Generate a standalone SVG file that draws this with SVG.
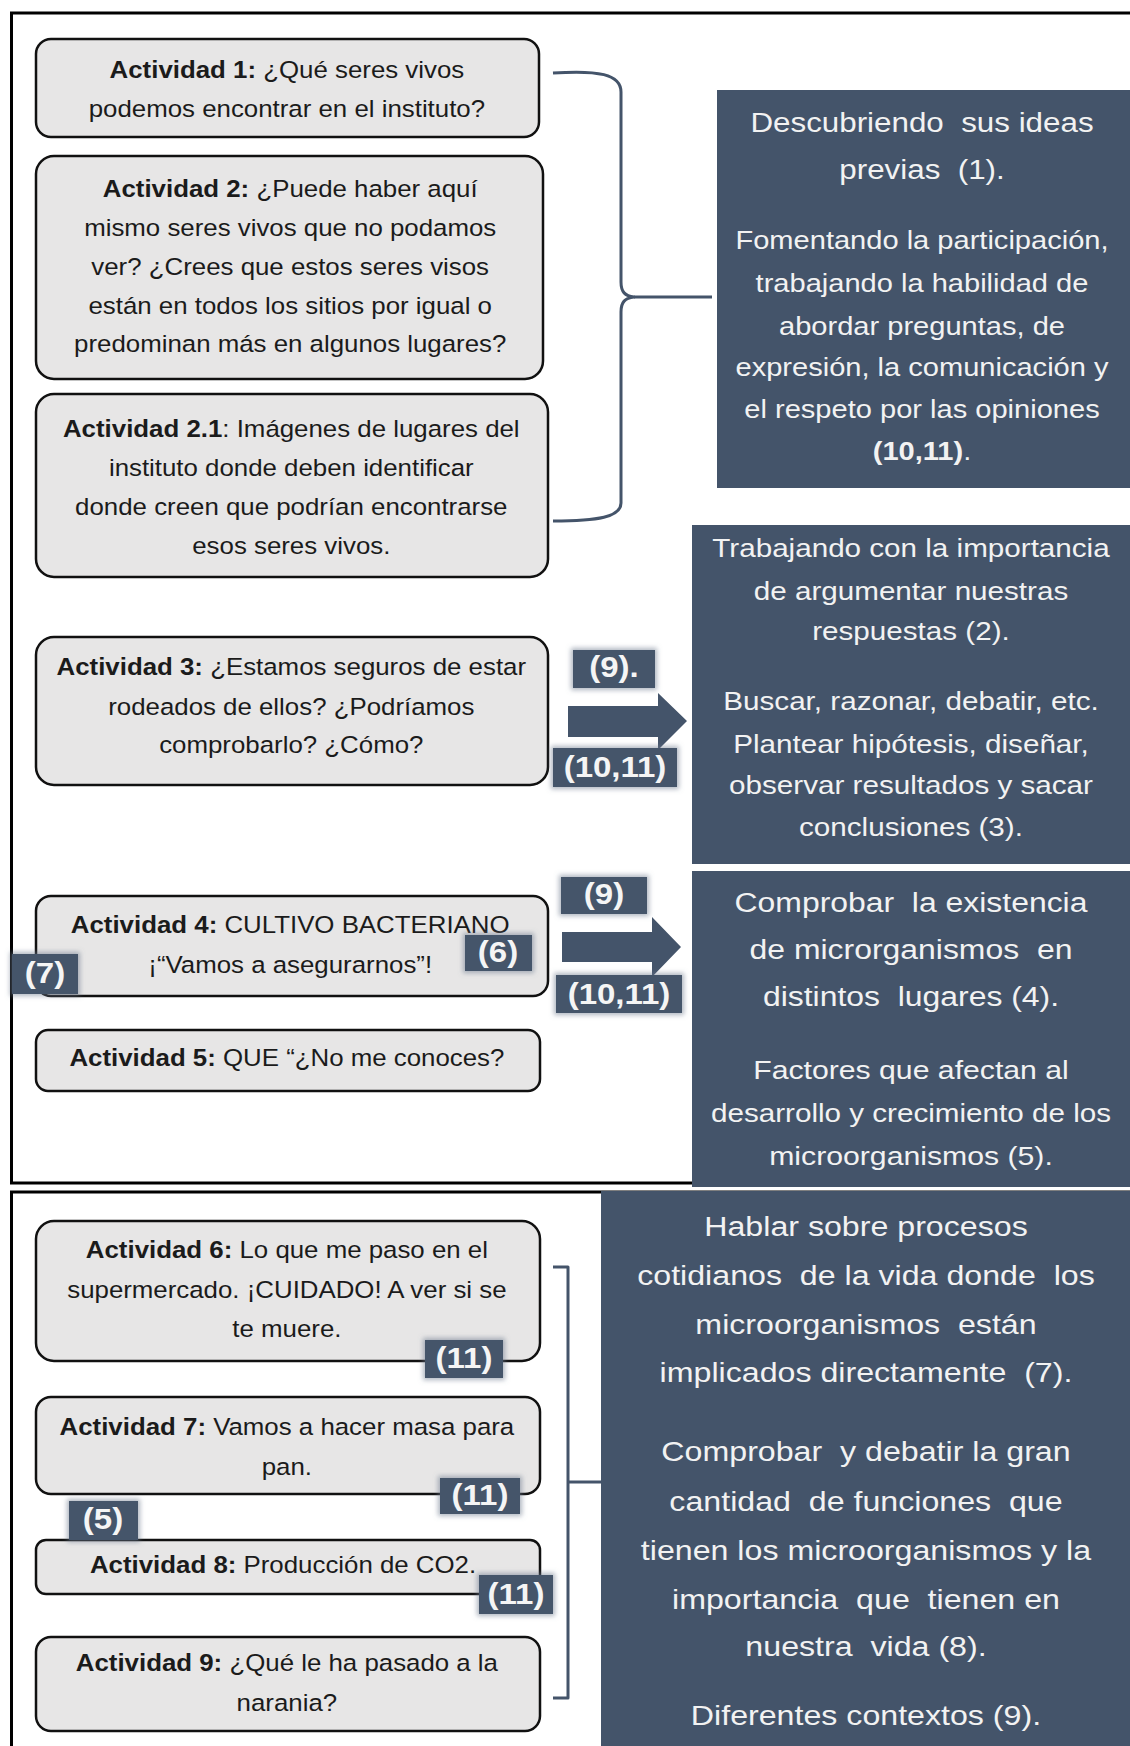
<svg xmlns="http://www.w3.org/2000/svg" width="1130" height="1746" viewBox="0 0 1130 1746">
  <defs>
    <style>
      .frame { fill: none; stroke: #000; stroke-width: 3; }
      .act { fill: #e7e6e6; stroke: #111; stroke-width: 2.5; }
      .at { font-family: "Liberation Sans", Arial, sans-serif; font-size: 23.5px; fill: #1b1b1b; text-anchor: middle; }
      .b { font-weight: bold; }
      .dark { fill: #44546a; }
      .dt { font-family: "Liberation Sans", Arial, sans-serif; fill: #f2f2f2; text-anchor: middle; }
      .lbl { fill: #44546a; filter: url(#halo); }
      .lt { font-family: "Liberation Sans", Arial, sans-serif; font-weight: bold; font-size: 30px; fill: #f5f5f5; text-anchor: middle; }
      .brace { fill: none; stroke: #44546a; stroke-width: 3; stroke-linejoin: round; }
      .arrow { fill: #44546a; }
    </style>
    <!-- soft halo round the small reference tags -->
    <filter id="halo" x="-30%" y="-40%" width="160%" height="180%">
      <feMorphology in="SourceAlpha" operator="dilate" radius="2" result="d"/>
      <feGaussianBlur in="d" stdDeviation="2.5" result="bl"/>
      <feFlood flood-color="#6a788c" flood-opacity="0.55"/>
      <feComposite in2="bl" operator="in" result="g"/>
      <feMerge><feMergeNode in="g"/><feMergeNode in="SourceGraphic"/></feMerge>
    </filter>
  </defs>

  <rect width="1130" height="1746" fill="#fff"/>

  <!-- outer frames -->
  <g id="frames">
    <rect class="frame" x="11.5" y="13" width="1140" height="1170"/>
    <rect class="frame" x="11.5" y="1192" width="1140" height="600"/>
  </g>

  <!-- objective panels -->
  <g id="goal-ideas">
    <rect class="dark" x="717" y="90" width="413" height="398"/>
    <g class="dt" transform="matrix(1.14 0 0 1 -129.08 0)">
      <text x="922" y="132" font-size="27.5" xml:space="preserve">Descubriendo  sus ideas</text>
      <text x="922" y="179" font-size="27.5" xml:space="preserve">previas  (1).</text>
      <text x="922" y="249" font-size="25.5">Fomentando la participación,</text>
      <text x="922" y="292" font-size="25.5">trabajando la habilidad de</text>
      <text x="922" y="335" font-size="25.5">abordar preguntas, de</text>
      <text x="922" y="376" font-size="25.5">expresión, la comunicación y</text>
      <text x="922" y="418" font-size="25.5">el respeto por las opiniones</text>
      <text x="922" y="460" font-size="25.5"><tspan class="b">(10,11)</tspan>.</text>
    </g>
  </g>

  <g id="goal-argumentar">
    <rect class="dark" x="692" y="525" width="438" height="339"/>
    <g class="dt" font-size="26" transform="matrix(1.14 0 0 1 -127.54 0)">
      <text x="911" y="557">Trabajando con la importancia</text>
      <text x="911" y="600">de argumentar nuestras</text>
      <text x="911" y="640">respuestas (2).</text>
      <text x="911" y="710">Buscar, razonar, debatir, etc.</text>
      <text x="911" y="753">Plantear hipótesis, diseñar,</text>
      <text x="911" y="794">observar resultados y sacar</text>
      <text x="911" y="836">conclusiones (3).</text>
    </g>
  </g>

  <g id="goal-comprobar">
    <rect class="dark" x="692" y="871" width="438" height="316"/>
    <g class="dt" transform="matrix(1.14 0 0 1 -127.54 0)">
      <text x="911" y="912" font-size="28" xml:space="preserve">Comprobar  la existencia</text>
      <text x="911" y="959" font-size="28" xml:space="preserve">de microrganismos  en</text>
      <text x="911" y="1006" font-size="28" xml:space="preserve">distintos  lugares (4).</text>
      <text x="911" y="1079" font-size="26.5">Factores que afectan al</text>
      <text x="911" y="1122" font-size="26">desarrollo y crecimiento de los</text>
      <text x="911" y="1165" font-size="26.5">microorganismos (5).</text>
    </g>
  </g>

  <g id="goal-cotidianos">
    <rect class="dark" x="601" y="1191" width="529" height="555"/>
    <g class="dt" font-size="27.5" transform="matrix(1.17 0 0 1 -147.22 0)">
      <text x="866" y="1236">Hablar sobre procesos</text>
      <text x="866" y="1285" xml:space="preserve">cotidianos  de la vida donde  los</text>
      <text x="866" y="1334" xml:space="preserve">microorganismos  están</text>
      <text x="866" y="1382" xml:space="preserve">implicados directamente  (7).</text>
      <text x="866" y="1461" xml:space="preserve">Comprobar  y debatir la gran</text>
      <text x="866" y="1511" xml:space="preserve">cantidad  de funciones  que</text>
      <text x="866" y="1560">tienen los microorganismos y la</text>
      <text x="866" y="1609" xml:space="preserve">importancia  que  tienen en</text>
      <text x="866" y="1656" xml:space="preserve">nuestra  vida (8).</text>
      <text x="866" y="1725">Diferentes contextos (9).</text>
    </g>
  </g>

  <!-- braces and block arrows -->
  <g id="connectors">
    <path class="brace" d="M553,73 C598,70 621,74 621,92 L621,282 C621,292 625,296 634,297 C625,298 621,302 621,312 L621,503 C621,517 598,521 553,521"/>
    <path class="brace" d="M634,297 H712"/>
    <path class="brace" d="M553,1267 H568 V1698 H553 M568,1482 H601"/>
    <polygon class="arrow" points="568,706 658,706 658,693 687,721 658,750 658,737 568,737"/>
    <polygon class="arrow" points="562,932 652,932 652,917 681,947 652,977 652,962 562,962"/>
  </g>

  <!-- activities -->
  <g id="act1">
    <rect class="act" x="36" y="39" width="503" height="98" rx="15"/>
    <g class="at" transform="matrix(1.1 0 0 1 -28.8 0)">
      <text x="287" y="78"><tspan class="b">Actividad 1:</tspan> ¿Qué seres vivos</text>
      <text x="287" y="117">podemos encontrar en el instituto?</text>
    </g>
  </g>

  <g id="act2">
    <rect class="act" x="36" y="156" width="507" height="223" rx="18"/>
    <g class="at" transform="matrix(1.1 0 0 1 -28.8 0)">
      <text x="290" y="197"><tspan class="b">Actividad 2:</tspan> ¿Puede haber aquí</text>
      <text x="290" y="236">mismo seres vivos que no podamos</text>
      <text x="290" y="275">ver? ¿Crees que estos seres visos</text>
      <text x="290" y="314">están en todos los sitios por igual o</text>
      <text x="290" y="352">predominan más en algunos lugares?</text>
    </g>
  </g>

  <g id="act2-1">
    <rect class="act" x="36" y="394" width="512" height="183" rx="18"/>
    <g class="at" transform="matrix(1.1 0 0 1 -28.8 0)">
      <text x="291" y="437"><tspan class="b">Actividad 2.1</tspan>: Imágenes de lugares del</text>
      <text x="291" y="476">instituto donde deben identificar</text>
      <text x="291" y="515">donde creen que podrían encontrarse</text>
      <text x="291" y="554">esos seres vivos.</text>
    </g>
  </g>

  <g id="act3">
    <rect class="act" x="36" y="637" width="512" height="148" rx="18"/>
    <g class="at" transform="matrix(1.1 0 0 1 -28.8 0)">
      <text x="291" y="675"><tspan class="b">Actividad 3:</tspan> ¿Estamos seguros de estar</text>
      <text x="291" y="715">rodeados de ellos? ¿Podríamos</text>
      <text x="291" y="753">comprobarlo? ¿Cómo?</text>
    </g>
  </g>

  <g id="act4">
    <rect class="act" x="36" y="896" width="512" height="100" rx="15"/>
    <g class="at" transform="matrix(1.1 0 0 1 -28.8 0)">
      <text x="290" y="933"><tspan class="b">Actividad 4:</tspan> CULTIVO BACTERIANO</text>
      <text x="290" y="973">¡“Vamos a asegurarnos”!</text>
    </g>
  </g>

  <g id="act5">
    <rect class="act" x="36" y="1030" width="504" height="61" rx="12"/>
    <g class="at" transform="matrix(1.1 0 0 1 -28.8 0)">
      <text x="287" y="1066"><tspan class="b">Actividad 5:</tspan> QUE “¿No me conoces?</text>
    </g>
  </g>

  <g id="act6">
    <rect class="act" x="36" y="1221" width="504" height="140" rx="18"/>
    <g class="at" transform="matrix(1.1 0 0 1 -28.8 0)">
      <text x="287" y="1258"><tspan class="b">Actividad 6:</tspan> Lo que me paso en el</text>
      <text x="287" y="1298">supermercado. ¡CUIDADO! A ver si se</text>
      <text x="287" y="1337">te muere.</text>
    </g>
  </g>

  <g id="act7">
    <rect class="act" x="36" y="1397" width="504" height="97" rx="15"/>
    <g class="at" transform="matrix(1.1 0 0 1 -28.8 0)">
      <text x="287" y="1435"><tspan class="b">Actividad 7:</tspan> Vamos a hacer masa para</text>
      <text x="287" y="1475">pan.</text>
    </g>
  </g>

  <g id="act8">
    <rect class="act" x="36" y="1540" width="504" height="54" rx="10"/>
    <g class="at" transform="matrix(1.1 0 0 1 -28.8 0)">
      <text x="283.5" y="1573"><tspan class="b">Actividad 8:</tspan> Producción de CO2.</text>
    </g>
  </g>

  <g id="act9">
    <rect class="act" x="36" y="1637" width="504" height="94" rx="15"/>
    <g class="at" transform="matrix(1.1 0 0 1 -28.8 0)">
      <text x="287" y="1671"><tspan class="b">Actividad 9:</tspan> ¿Qué le ha pasado a la</text>
      <text x="287" y="1711">narania?</text>
    </g>
  </g>

  <!-- reference tags -->
  <g id="tag-9a">
    <rect class="lbl" x="573" y="650" width="82" height="38"/>
    <text class="lt" x="614" y="677" transform="matrix(1.1 0 0 1 -61.4 0)">(9).</text>
  </g>
  <g id="tag-1011a">
    <rect class="lbl" x="553" y="748" width="124" height="39"/>
    <text class="lt" x="615" y="777" transform="matrix(1.1 0 0 1 -61.5 0)">(10,11)</text>
  </g>
  <g id="tag-9b">
    <rect class="lbl" x="561" y="877" width="86" height="37"/>
    <text class="lt" x="604" y="904" transform="matrix(1.1 0 0 1 -60.4 0)">(9)</text>
  </g>
  <g id="tag-1011b">
    <rect class="lbl" x="556" y="975" width="126" height="38"/>
    <text class="lt" x="619" y="1004" transform="matrix(1.1 0 0 1 -61.9 0)">(10,11)</text>
  </g>
  <g id="tag-6">
    <rect class="lbl" x="465" y="935" width="67" height="36"/>
    <text class="lt" x="498" y="962" transform="matrix(1.1 0 0 1 -49.8 0)">(6)</text>
  </g>
  <g id="tag-7">
    <rect class="lbl" x="12" y="954" width="66" height="40"/>
    <text class="lt" x="45" y="983" transform="matrix(1.1 0 0 1 -4.5 0)">(7)</text>
  </g>
  <g id="tag-11a">
    <rect class="lbl" x="425" y="1340" width="78" height="38"/>
    <text class="lt" x="464" y="1368" transform="matrix(1.1 0 0 1 -46.4 0)">(11)</text>
  </g>
  <g id="tag-11b">
    <rect class="lbl" x="440" y="1478" width="80" height="36"/>
    <text class="lt" x="480" y="1505" transform="matrix(1.1 0 0 1 -48 0)">(11)</text>
  </g>
  <g id="tag-5">
    <rect class="lbl" x="69" y="1501" width="69" height="39"/>
    <text class="lt" x="103" y="1529" transform="matrix(1.1 0 0 1 -10.3 0)">(5)</text>
  </g>
  <g id="tag-11c">
    <rect class="lbl" x="479" y="1575" width="74" height="39"/>
    <text class="lt" x="516" y="1604" transform="matrix(1.1 0 0 1 -51.6 0)">(11)</text>
  </g>
</svg>
